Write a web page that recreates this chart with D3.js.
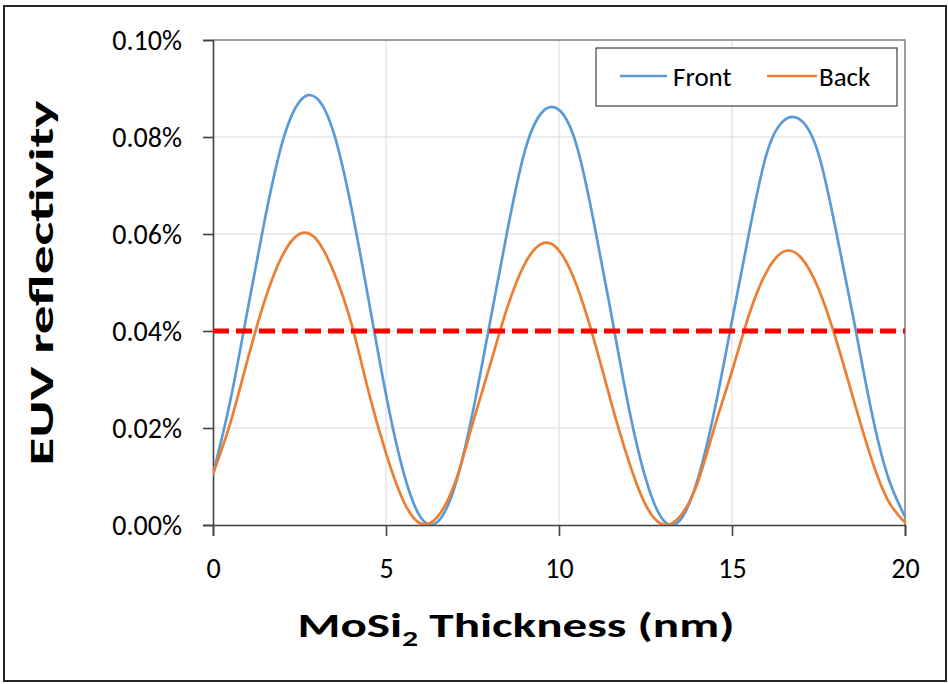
<!DOCTYPE html>
<html>
<head>
<meta charset="utf-8">
<script src="https://cdn.jsdelivr.net/npm/d3@7"></script>
<style>
  html, body { margin: 0; padding: 0; background: #ffffff; }
  svg { display: block; }
  text { font-family: Calibri, Carlito, Lato, "Open Sans", sans-serif; fill: #000; }
</style>
</head>
<body>
<svg id="chart" width="948" height="684"></svg>
<script>
// ---- data ----
const thickness = [0, 0.5, 1, 1.5, 2, 2.5, 3, 3.5, 4, 4.5, 5, 5.5, 6,
  6.5, 7, 7.5, 8, 8.5, 9, 9.5, 10, 10.5, 11, 11.5, 12, 12.5, 13,
  13.5, 14, 14.5, 15, 15.5, 16, 16.5, 17, 17.5, 18, 18.5, 19, 19.5, 20];

// EUV reflectivity in percent
const front = [0.0105, 0.0256, 0.0444, 0.0631, 0.0788, 0.0873, 0.0880, 0.0806, 0.0654, 0.0463, 0.0269, 0.0110, 0.0016,
  0.0007, 0.0082, 0.0230, 0.0416, 0.0604, 0.0768, 0.0850, 0.0856, 0.0785, 0.0627, 0.0439, 0.0248, 0.0097, 0.0011,
  0.0010, 0.0092, 0.0238, 0.0421, 0.0605, 0.0765, 0.0834, 0.0834, 0.0765, 0.0609, 0.0430, 0.0245, 0.0101, 0.0017];

const back = [0.0105, 0.0210, 0.0341, 0.0464, 0.0555, 0.0600, 0.0588, 0.0520, 0.0415, 0.0274, 0.0148, 0.0050, 0.0003,
  0.0018, 0.0088, 0.0208, 0.0328, 0.0447, 0.0537, 0.0580, 0.0566, 0.0496, 0.0385, 0.0255, 0.0135, 0.0042, 0.0001,
  0.0018, 0.0086, 0.0203, 0.0317, 0.0435, 0.0522, 0.0564, 0.0551, 0.0487, 0.0384, 0.0262, 0.0143, 0.0052, 0.0005];

const thresholdValue = 0.04;

const xTicks = [0, 5, 10, 15, 20];
const xTickLabels = ["0", "5", "10", "15", "20"];
const yTicks = [0, 0.02, 0.04, 0.06, 0.08, 0.10];
const yTickLabels = ["0.00%", "0.02%", "0.04%", "0.06%", "0.08%", "0.10%"];

const seriesNames = ["Front", "Back"];
const seriesColors = ["#5B9BD5", "#ED7D31"];

// ---- layout ----
const svg = d3.select("#chart");
const plot = { left: 213, right: 905, top: 40, bottom: 525 };

const x = d3.scaleLinear().domain([0, 20]).range([plot.left, plot.right]);
const y = d3.scaleLinear().domain([0, 0.10]).range([plot.bottom, plot.top]);

// outer frame
svg.append("rect")
  .attr("x", 4).attr("y", 6).attr("width", 942).attr("height", 675)
  .attr("fill", "#ffffff").attr("stroke", "#262626").attr("stroke-width", 2);

// gridlines
svg.append("g").selectAll("line.h")
  .data(yTicks.filter(d => d > 0 && d < 0.10))
  .join("line")
  .attr("x1", plot.left).attr("x2", plot.right)
  .attr("y1", d => y(d)).attr("y2", d => y(d))
  .attr("stroke", "#d9d9d9").attr("stroke-width", 1);
svg.append("g").selectAll("line.v")
  .data(xTicks.filter(d => d > 0 && d < 20))
  .join("line")
  .attr("x1", d => x(d)).attr("x2", d => x(d))
  .attr("y1", plot.top).attr("y2", plot.bottom)
  .attr("stroke", "#d9d9d9").attr("stroke-width", 1);

// plot-area border (top / right)
svg.append("path")
  .attr("d", `M${plot.left},${plot.top}H${plot.right}V${plot.bottom}`)
  .attr("fill", "none").attr("stroke", "#7f7f7f").attr("stroke-width", 1.5);

// axes
const yAxis = d3.axisLeft(y).tickValues(yTicks).tickFormat((d, i) => yTickLabels[i])
  .tickSize(10).tickPadding(21);
const gy = svg.append("g").attr("transform", `translate(${plot.left},0)`).call(yAxis);
gy.select(".domain").attr("stroke", "#404040").attr("stroke-width", 1.6);
gy.selectAll(".tick line").attr("stroke", "#404040").attr("stroke-width", 1.6);
gy.selectAll(".tick text")
  .attr("font-size", 28).attr("dy", "0.34em").attr("fill", "#000")
  .style("font-family", "Calibri, Carlito, Lato, sans-serif");

const xAxis = d3.axisBottom(x).tickValues(xTicks).tickFormat((d, i) => xTickLabels[i])
  .tickSize(11).tickPadding(22);
const gx = svg.append("g").attr("transform", `translate(0,${plot.bottom})`).call(xAxis);
gx.select(".domain").attr("stroke", "#404040").attr("stroke-width", 1.6);
gx.selectAll(".tick line").attr("stroke", "#404040").attr("stroke-width", 1.6);
gx.selectAll(".tick text")
  .attr("font-size", 28).attr("dy", "0.71em").attr("fill", "#000")
  .style("font-family", "Calibri, Carlito, Lato, sans-serif");

// clip
svg.append("clipPath").attr("id", "clip")
  .append("rect").attr("x", plot.left).attr("y", plot.top - 4)
  .attr("width", plot.right - plot.left + 2).attr("height", plot.bottom - plot.top + 4);

// series
const line = d3.line()
  .x((d, i) => x(thickness[i]))
  .y(d => y(Math.max(0, d)))
  .curve(d3.curveNatural);

const gLines = svg.append("g").attr("clip-path", "url(#clip)");
[front, back].forEach((vals, k) => {
  gLines.append("path")
    .datum(vals)
    .attr("d", line)
    .attr("fill", "none")
    .attr("stroke", seriesColors[k])
    .attr("stroke-width", 2.7)
    .attr("stroke-linejoin", "round")
    .attr("stroke-linecap", "round");
});

// threshold dashed line
svg.append("line")
  .attr("x1", x(0)).attr("x2", x(20))
  .attr("y1", y(thresholdValue)).attr("y2", y(thresholdValue))
  .attr("stroke", "#FF0000").attr("stroke-width", 5)
  .attr("stroke-dasharray", "16,7");

// legend
const lg = svg.append("g");
lg.append("rect")
  .attr("x", 596).attr("y", 48).attr("width", 301).attr("height", 58)
  .attr("fill", "#ffffff").attr("stroke", "#404040").attr("stroke-width", 1.2);
const legendItems = [
  { x1: 620, x2: 667, tx: 673 },
  { x1: 767, x2: 817, tx: 819 }
];
legendItems.forEach((it, k) => {
  lg.append("line").attr("x1", it.x1).attr("x2", it.x2).attr("y1", 76).attr("y2", 76)
    .attr("stroke", seriesColors[k]).attr("stroke-width", 2.7);
  lg.append("text").attr("x", it.tx).attr("y", 86).attr("font-size", 27)
    .text(seriesNames[k]);
});

// x title
const xt = svg.append("text")
  .attr("x", 516).attr("y", 637)
  .attr("text-anchor", "middle")
  .attr("font-size", 34).attr("font-weight", "bold");
xt.append("tspan").text("MoSi");
xt.append("tspan").attr("font-size", 22).attr("dy", 9).text("2");
xt.append("tspan").attr("dy", -9).text(" Thickness (nm)");
xt.attr("textLength", 437).attr("lengthAdjust", "spacingAndGlyphs");

// y title
svg.append("text")
  .attr("transform", "translate(53,283) rotate(-90)")
  .attr("text-anchor", "middle")
  .attr("font-size", 35).attr("font-weight", "bold")
  .attr("textLength", 365).attr("lengthAdjust", "spacingAndGlyphs")
  .text("EUV reflectivity");
</script>
</body>
</html>
